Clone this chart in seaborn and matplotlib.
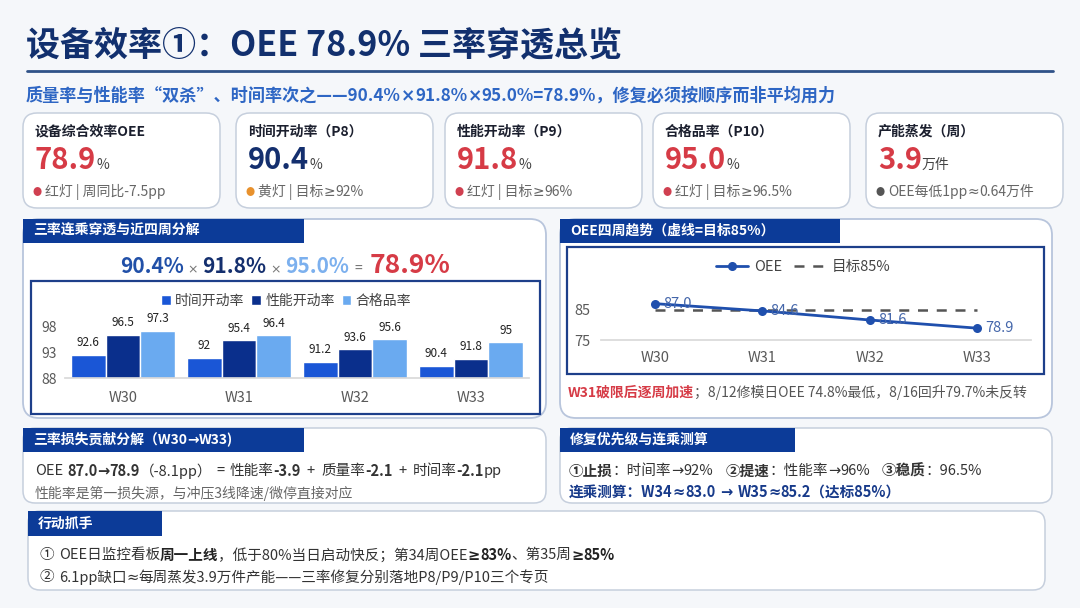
import matplotlib
matplotlib.use('Agg')
import matplotlib.pyplot as plt
import seaborn as sns
import pandas as pd
from matplotlib.patches import FancyBboxPatch, Rectangle
from matplotlib.lines import Line2D

# ---------------- data ----------------
weeks = ['W30', 'W31', 'W32', 'W33']
bar_series = ['时间开动率', '性能开动率', '合格品率']
time_rate = [92.6, 92.0, 91.2, 90.4]
perf_rate = [96.5, 95.4, 93.6, 91.8]
qual_rate = [97.3, 96.4, 95.6, 95.0]
oee_trend = [87.0, 84.6, 81.6, 78.9]
oee_target = [85, 85, 85, 85]
bar_ticks = [88, 93, 98]
line_ticks = [75, 85]

kpi_titles = ['设备综合效率OEE', '时间开动率（P8）', '性能开动率（P9）', '合格品率（P10）', '产能蒸发（周）']
kpi_values = ['78.9', '90.4', '91.8', '95.0', '3.9']
kpi_units = ['%', '%', '%', '%', '万件']
kpi_notes = ['红灯 | 周同比-7.5pp', '黄灯 | 目标≥92%', '红灯 | 目标≥96%', '红灯 | 目标≥96.5%', 'OEE每低1pp≈0.64万件']

# ---------------- style ----------------
sns.set_theme(style='white')
plt.rcParams['font.family'] = ['Noto Sans CJK SC', 'DejaVu Sans']
plt.rcParams['axes.unicode_minus'] = False

RED = '#d63b46'
NAVY = '#142f6e'
HEAD = '#0c3b98'
GRAY = '#595959'
bar_colors = ['#1a56d6', '#0a2f8c', '#6aaaf0']
kpi_colors = [RED, NAVY, RED, RED, RED]
dot_colors = ['#d04050', '#e8912d', '#d04050', '#d04050', '#555555']
SPECIAL = set('≈≥×→')

W, H = 1080, 608
fig = plt.figure(figsize=(W / 100, H / 100), dpi=100, facecolor='#f5f7fa')
bg = fig.add_axes([0, 0, 1, 1])
bg.set_xlim(0, W)
bg.set_ylim(H, 0)
bg.axis('off')
renderer = fig.canvas.get_renderer()


def rect_px(x0, y0, x1, y1):
    return [x0 / W, 1 - y1 / H, (x1 - x0) / W, (y1 - y0) / H]


def split_special(s, kw):
    out = []
    cur = ''
    for ch in s:
        if ch in SPECIAL:
            if cur:
                out.append((cur, kw))
                cur = ''
            out.append((ch, dict(kw, family=['DejaVu Sans'])))
        else:
            cur += ch
    if cur:
        out.append((cur, kw))
    return out


def text_width(seg, kw):
    t1 = bg.text(0, 0, '|' + seg + '|', **kw)
    t2 = bg.text(0, 0, '||', **kw)
    w = t1.get_window_extent(renderer=renderer).width - t2.get_window_extent(renderer=renderer).width
    t1.remove()
    t2.remove()
    return w


def draw_runs(x, y, parts, va='center', ha='left'):
    items = []
    total = 0
    for p in parts:
        if isinstance(p, (int, float)):
            items.append((None, p))
            total += p
            continue
        s, kw = p
        for seg, kw2 in split_special(s, kw):
            t = bg.text(0, y, seg, va=va, ha='left', **kw2)
            w = text_width(seg, kw2)
            items.append((t, w))
            total += w
    if ha == 'center':
        x = x - total / 2
    for t, w in items:
        if t is not None:
            t.set_x(x)
        x += w
    return x


def rbox(x0, y0, x1, y1, r=12, ec='#c6cfdd', lw=1.1, fc='white'):
    bg.add_patch(FancyBboxPatch((x0, y0), x1 - x0, y1 - y0,
                                boxstyle=f'round,pad=0,rounding_size={r}',
                                fc=fc, ec=ec, lw=lw))


def header(x0, y0, x1, y1, text, tx=10):
    bg.add_patch(Rectangle((x0, y0), x1 - x0, y1 - y0, fc=HEAD, ec='none'))
    draw_runs(x0 + tx, (y0 + y1) / 2, [(text, dict(color='white', fontsize=10, fontweight='bold'))])


# ---------------- title ----------------
bg.text(26, 45, '设备效率①：OEE 78.9% 三率穿透总览', fontsize=24.5, fontweight='bold',
        color='#12306e', va='center', ha='left')
bg.plot([27, 1053], [71, 71], color='#2f5288', lw=2)
draw_runs(26, 96, [('质量率与性能率“双杀”、时间率次之——90.4%×91.8%×95.0%=78.9%，修复必须按顺序而非平均用力',
                    dict(fontsize=12.3, fontweight='bold', color='#2e66c4'))])

# ---------------- KPI cards ----------------
card_x = [23, 236, 445, 653, 866]
for i, cx in enumerate(card_x):
    rbox(cx, 113, cx + 197, 208, r=14)
    bg.text(cx + 12, 132, kpi_titles[i], fontsize=10, fontweight='bold', color='#1b1f2e',
            va='center', ha='left')
    draw_runs(cx + 12, 169, [(kpi_values[i], dict(fontsize=21, fontweight='bold', color=kpi_colors[i])),
                             (kpi_units[i], dict(fontsize=10, color='#444444'))], va='baseline')
    bg.text(cx + 14, 192, '●', fontsize=6.5, color=dot_colors[i], va='center', ha='center')
    draw_runs(cx + 22, 192, [(kpi_notes[i], dict(fontsize=10, color='#666666'))])

# ---------------- panels ----------------
rbox(23, 219, 546, 418, r=16, ec='#b8c5dc', lw=1.3)
header(23, 219, 304, 243, '三率连乘穿透与近四周分解')
rbox(560, 219, 1052, 418, r=16, ec='#b8c5dc', lw=1.3)
header(560, 219, 840, 243, 'OEE四周趋势（虚线=目标85%）')
rbox(23, 428, 546, 503, r=12)
header(23, 428, 304, 452, '三率损失贡献分解（W30→W33)')
rbox(560, 428, 1052, 503, r=12)
header(560, 428, 795, 452, '修复优先级与连乘测算')
rbox(28, 511, 1045, 590, r=12)
header(28, 511, 162, 536, '行动抓手', tx=10)

# formula line
draw_runs(285, 273, [('90.4%', dict(fontsize=15, fontweight='bold', color='#2150a8')), 4,
                     ('×', dict(fontsize=9, color='#777777')), 4,
                     ('91.8%', dict(fontsize=15, fontweight='bold', color=NAVY)), 4,
                     ('×', dict(fontsize=9, color='#777777')), 4,
                     ('95.0%', dict(fontsize=15, fontweight='bold', color='#7cb0ee')), 6,
                     ('=', dict(fontsize=10, color='#777777')), 7,
                     ('78.9%', dict(fontsize=19, fontweight='bold', color=RED))], va='baseline', ha='center')

# chart frames
bg.add_patch(Rectangle((31, 281), 509, 133, fc='white', ec='#1d3f8a', lw=1.6))
bg.add_patch(Rectangle((567, 247), 477, 127, fc='white', ec='#1d3f8a', lw=1.6))

# ---------------- bar chart ----------------
ax1 = fig.add_axes(rect_px(65, 311.7, 529, 378))
df = pd.DataFrame({'week': weeks * 3,
                   'metric': [m for m in bar_series for _ in weeks],
                   'value': time_rate + perf_rate + qual_rate})
sns.barplot(data=df, x='week', y='value', hue='metric', palette=bar_colors, width=0.9,
            saturation=1, errorbar=None, ax=ax1)
ax1.set_ylim(88, 101)
ax1.set_xlim(-0.5, 3.5)
ax1.set_yticks(bar_ticks)
ax1.set_xlabel('')
ax1.set_ylabel('')
ax1.patch.set_alpha(0)
for c in ax1.containers:
    ax1.bar_label(c, labels=[f'{v:g}' for v in c.datavalues], padding=4, fontsize=8.5, color='#222222')
for s in ['left', 'top', 'right']:
    ax1.spines[s].set_visible(False)
ax1.spines['bottom'].set_color('#d9d9d9')
ax1.tick_params(axis='y', length=0, labelsize=10, labelcolor=GRAY, pad=6)
ax1.tick_params(axis='x', which='major', length=0, labelsize=10.5, labelcolor=GRAY, pad=9)
ax1.set_xticks([-0.5, 0.5, 1.5, 2.5, 3.5], minor=True)
ax1.tick_params(axis='x', which='minor', length=4, color='#d9d9d9', width=1)
h, l = ax1.get_legend_handles_labels()
ax1.legend(h, l, loc='center', bbox_to_anchor=(286, 301), bbox_transform=bg.transData, ncol=3,
           frameon=False, fontsize=10, handlelength=0.7, handleheight=0.7, handletextpad=0.3,
           columnspacing=0.5, labelcolor='#444444')

# ---------------- line chart ----------------
ax2 = fig.add_axes(rect_px(601, 279.4, 1031, 340))
dfl = pd.DataFrame({'week': weeks, 'OEE': oee_trend, 'target': oee_target})
sns.lineplot(data=dfl, x='week', y='target', color='#555555', lw=1.8, sort=False, ax=ax2)
ax2.lines[-1].set_linestyle((0, (4, 3.5)))
sns.lineplot(data=dfl, x='week', y='OEE', color='#1f4fad', lw=2, marker='o', markersize=6.5,
             markeredgewidth=0, sort=False, ax=ax2)
for i, v in enumerate(oee_trend):
    ax2.annotate(f'{v:.1f}', (i, v), xytext=(6, 0), textcoords='offset points', va='center',
                 ha='left', fontsize=10.5, color='#4466aa')
ax2.set_ylim(75, 95)
ax2.set_xlim(-0.5, 3.5)
ax2.set_yticks(line_ticks)
ax2.set_xlabel('')
ax2.set_ylabel('')
ax2.patch.set_alpha(0)
for s in ['left', 'top', 'right']:
    ax2.spines[s].set_visible(False)
ax2.spines['bottom'].set_color('#d9d9d9')
ax2.tick_params(axis='y', length=0, labelsize=10.5, labelcolor=GRAY, pad=8)
ax2.tick_params(axis='x', which='major', length=0, labelsize=10.5, labelcolor=GRAY, pad=8)
ax2.set_xticks([-0.5, 0.5, 1.5, 2.5, 3.5], minor=True)
ax2.tick_params(axis='x', which='minor', length=4, color='#d9d9d9', width=1)
lh = [Line2D([], [], color='#1f4fad', lw=2, marker='o', markersize=5.5),
      Line2D([], [], color='#555555', lw=1.8, ls=(0, (4, 3.5)))]
ax2.legend(lh, ['OEE', '目标85%'], loc='center', bbox_to_anchor=(803, 267), bbox_transform=bg.transData,
           ncol=2, frameon=False, fontsize=10.5, handlelength=2.2, handletextpad=0.4, columnspacing=0.8,
           labelcolor='#444444')

draw_runs(568, 393, [('W31破限后逐周加速', dict(fontsize=10, fontweight='bold', color=RED)),
                     ('；8/12修模日OEE 74.8%最低，8/16回升79.7%未反转', dict(fontsize=10, color='#555555'))])

# ---------------- text panels ----------------
n = dict(fontsize=10.5, color='#333333')
b = dict(fontsize=10.5, color='#333333', fontweight='bold')
draw_runs(35, 471, [('OEE', n), 4, ('87.0→78.9', b), ('（-8.1pp）', n), 4, ('=', n), 5, ('性能率', n),
                    ('-3.9', b), 6, ('+', n), 6, ('质量率', n), ('-2.1', b), 6, ('+', n), 6,
                    ('时间率', n), ('-2.1', b), ('pp', n)])
draw_runs(35, 493, [('性能率是第一损失源，与冲压3线降速/微停直接对应', dict(fontsize=10, color='#666666'))])

draw_runs(569, 471, [('①止损', b), ('：时间率→92%', n), 12, ('②提速', b), ('：性能率→96%', n), 12,
                     ('③稳质', b), ('：96.5%', n)])
bb = dict(fontsize=10.5, fontweight='bold', color='#173a8a')
draw_runs(569, 492, [('连乘测算：W34≈83.0', bb), 5, ('→', bb), 5, ('W35≈85.2（达标85%）', bb)])

n2 = dict(fontsize=10.5, color='#333333')
b2 = dict(fontsize=10.5, color='#222222', fontweight='bold')
draw_runs(40, 555, [('①', n2), 4, ('OEE日监控看板', n2), ('周一上线', b2),
                    ('，低于80%当日启动快反；第34周OEE', n2), ('≥83%', b2), ('、第35周', n2), ('≥85%', b2)])
draw_runs(40, 577, [('②', n2), 4, ('6.1pp缺口≈每周蒸发3.9万件产能——三率修复分别落地P8/P9/P10三个专页', n2)])

fig.savefig('out.png', dpi=100, facecolor=fig.get_facecolor())
